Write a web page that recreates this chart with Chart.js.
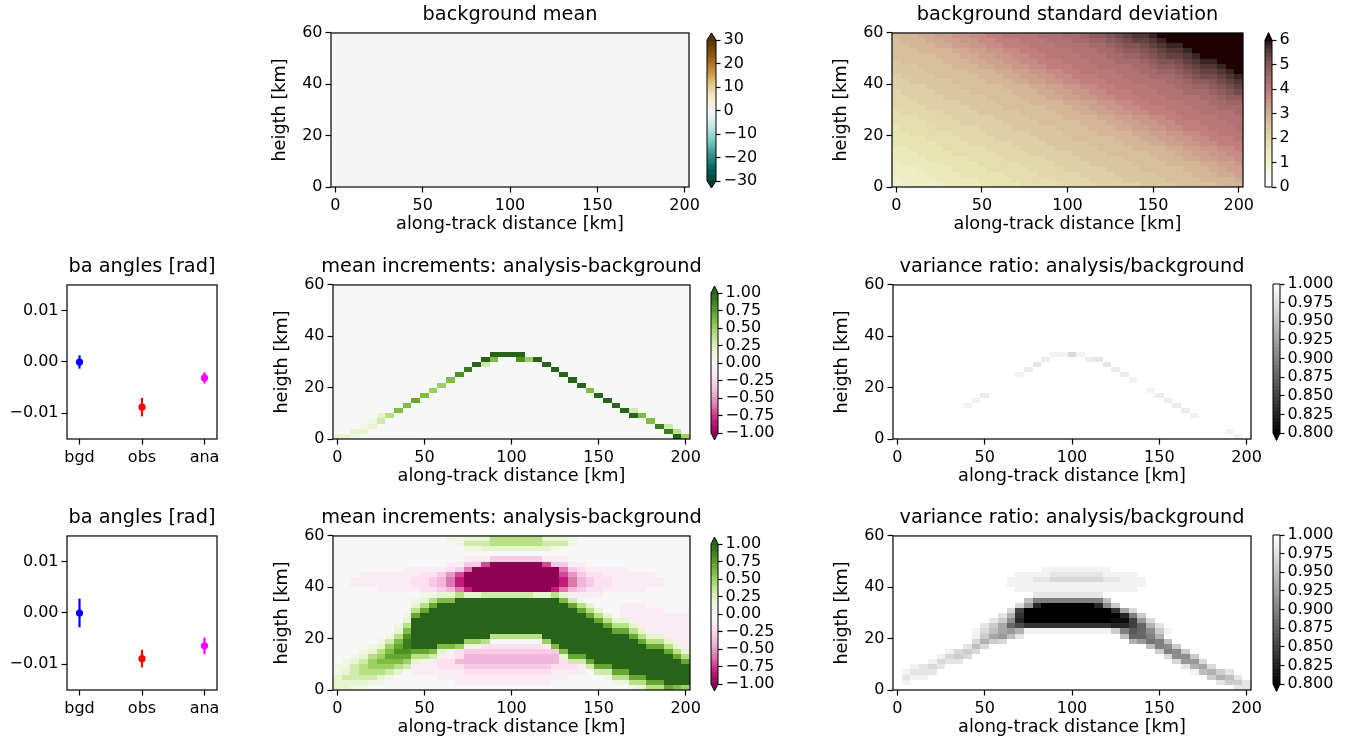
<!DOCTYPE html>
<html>
<head>
<meta charset="utf-8">
<script src="https://cdn.jsdelivr.net/npm/chart.js@4.4.1/dist/chart.umd.min.js"></script>
<style>
  html, body { margin: 0; padding: 0; background: #fff; }
  #fig { position: relative; width: 1352px; height: 745px; overflow: hidden; background: #fff; }
  #fig canvas { position: absolute; }
</style>
</head>
<body>
<div id="fig"></div>
<script>
// grid of the along-track / height fields (cell centres, km)
const xCentres = [0, 5, 10, 15, 20, 25, 30, 35, 40, 45, 50, 55, 60, 65, 70, 75, 80, 85, 90, 95, 100,
  105, 110, 115, 120, 125, 130, 135, 140, 145, 150, 155, 160, 165, 170, 175, 180, 185, 190, 195, 200];
const yCentres = [1, 3, 5, 7, 9, 11, 13, 15, 17, 19, 21, 23, 25, 27, 29, 31, 33, 35, 37, 39,
  41, 43, 45, 47, 49, 51, 53, 55, 57, 59];
const cellW = 5, cellH = 2;

const distTicks = [0, 50, 100, 150, 200];
const heightTicks = [0, 20, 40, 60];

// background mean: flat field
const bgMeanValue = 0;
const bgMeanTicks = [-30, -20, -10, 0, 10, 20, 30];

// background std, rows top -> bottom, one char per column, value = index * 0.2
const stdCodes = '0123456789abcdefghijklmnopqrstuv';
const bgStdRows = [
  'eeeffgghhiijjkkkklllmmnoopqrsstuvvvvvvvvv',
  'deeeffgghhiijjjkkklllmmnnopqrrstuvvvvvvvv',
  'ddeeeffgghhiijjjkkkllllmmnoppqrsttuvvvvvv',
  'dddeeeeffgghhiijjkkkklllmmnoopqrsstuvvvvv',
  'dddddeeeffgghhiijjkkkklllmmnnopqrrstuvvvv',
  'cdddddeeeffgghhiijjjkkklllmmmnoppqrsttuvv',
  'cccddddeeeffgghhiijjjkkkllllmmnoopqrsstuv',
  'ccccdddddeeeffgghhiijjkkkklllmmnnopqrrstu',
  'bccccdddddeeeffgghhiijjjkkklllmmmnopqqrst',
  'bbcccccddddeeeffgghhiijjjkkkllllmmnoopqrs',
  'bbbbccccdddddeeeffgghhiijjkkkklllmmnnopqr',
  'abbbbccccdddddeeeffgghhiijjjkkklllmmmnopq',
  'aabbbbcccccddddeeeffgghhiijjjkkkllllmmnoo',
  'aaabbbbbccccddddeeeeffgghhiijjkkkklllmmnn',
  'aaaabbbbbccccdddddeeeffgghhiijjjkkklllmmm',
  '9aaaaabbbbcccccddddeeeffgghhiijjjkkkllllm',
  '999aaaabbbbbccccddddeeeeffgghhiijjkkkklll',
  '9999aaaabbbbbccccdddddeeeffgghhiijjjkkkll',
  '89999aaaaabbbbcccccddddeeeffgghhiijjjkkkl',
  '8899999aaaabbbbbccccddddeeeeffgghhiijjkkk',
  '88889999aaaabbbbbccccdddddeeeffgghhiijjjk',
  '888889999aaaaabbbbcccccddddeeeffgghhiijjj',
  '77888899999aaaabbbbcccccddddeeeeffgghhiij',
  '777888899999aaaabbbbbccccdddddeeeffgghhii',
  '7777888889999aaaaabbbbcccccddddeeeffgghhi',
  '677777888899999aaaabbbbcccccddddeeeeffggh',
  '6667777888899999aaaabbbbbccccdddddeeeffgg',
  '66667777888889999aaaaabbbbcccccddddeeeffg',
  '5666677777888899999aaaabbbbcccccddddeeeef',
  '55666677777888899999aaaabbbbbccccdddddeee'
];
const bgStdTicks = [0, 1, 2, 3, 4, 5, 6];

// first experiment: [x km, y km, value] on a flat field
const incr1Base = 0;
const incr1Cells = [
  [0, 1, 0.2], [5, 1, 0.2], [10, 1, 0.1], [195, 1, 1.0], [200, 1, 0.5],
  [10, 3, 0.2], [15, 3, 0.2], [190, 3, 0.9], [195, 3, 0.4],
  [15, 5, 0.1], [20, 5, 0.2], [185, 5, 0.9], [190, 5, 0.3],
  [20, 7, 0.1], [25, 7, 0.3], [180, 7, 0.6],
  [25, 9, 0.2], [30, 9, 0.4], [170, 9, 1.0], [175, 9, 0.6],
  [35, 11, 0.6], [165, 11, 1.0], [170, 11, 0.3],
  [40, 13, 0.6], [160, 13, 1.0],
  [45, 15, 0.7], [155, 15, 1.0],
  [50, 17, 0.6], [150, 17, 1.0],
  [55, 19, 0.5], [145, 19, 0.6],
  [60, 21, 0.5], [140, 21, 1.0],
  [65, 23, 0.6], [135, 23, 1.0],
  [70, 25, 0.8], [130, 25, 1.0],
  [75, 27, 0.9], [125, 27, 1.0],
  [80, 29, 1.0], [85, 29, 0.3], [120, 29, 1.0],
  [85, 31, 1.0], [90, 31, 0.6], [105, 31, 0.8], [110, 31, 0.5], [115, 31, 1.0],
  [90, 33, 1.0], [95, 33, 1.0], [100, 33, 1.0], [105, 33, 1.0]
];
const incrTicks = [-1, -0.75, -0.5, -0.25, 0, 0.25, 0.5, 0.75, 1];

const var1Base = 1;
const var1Cells = [
  [40, 13, 0.99], [45, 15, 0.99], [50, 17, 0.985], [70, 25, 0.99], [75, 27, 0.985],
  [80, 29, 0.98], [85, 31, 0.985], [90, 33, 0.99], [95, 33, 0.99], [100, 33, 0.97],
  [105, 33, 0.99], [110, 31, 0.985], [115, 31, 0.98], [120, 29, 0.98], [125, 27, 0.985],
  [130, 25, 0.985], [135, 23, 0.99], [145, 19, 0.99], [150, 17, 0.985], [155, 15, 0.985],
  [160, 13, 0.985], [165, 11, 0.985], [170, 9, 0.99], [190, 3, 0.99], [195, 1, 0.99]
];
const varTicks = [0.8, 0.825, 0.85, 0.875, 0.9, 0.925, 0.95, 0.975, 1];

// second experiment, run-length rows top -> bottom
const incrCodes = 'jihgfedcba.ABCDEFGHIJ'; // value = (index - 10) / 10
const incr2Rows = [
  '13.2A3B6D3BA13.',
  '14.A3C6D3CA13.',
  '15.2A8BA15.',
  '41.',
  '15.3a6c3a14.',
  '13.2a2cg6jg2c2a12.',
  '8.5abcf10jfcb5a7.',
  '3.7a2bceg11jgec2b6a4.',
  '2.7a2bcdfh11jhfdc2b6a3.',
  '2.7a2bcdfh11jhfdc2b6a3.',
  '5.5a2bcdfh9jhfdc2b5a5.',
  '10.2A2BD2B6C2BDB4a10.',
  '9.ABD2F12JFCA12.',
  '9.BDG15JGDB3.3a5.',
  '9.DG17JGDB2.5a3.',
  '8.AG19JGDB.8a',
  '8.B21JGD2B7a',
  '7.AD22JG2DB6a',
  '7.BF23J2GDB5a',
  '6.ADH9J6D10JGD2B3a',
  '5.ACFI6J2ED6.E10JG2DB2a',
  '4.ABEGI3J2FE2A7baF10J2GDBa',
  '3.ABDF2H2GFBAb11cF11JGDB',
  '2.ABDE3G2DC2ab11dB2G10JGD',
  '.ABCE3FEBAa2b12db2CG10JG',
  '2ACD3EDC3a3b10c3baC2G9J',
  'ABC3DCB.6a10b4a.2C2G7J',
  'B4CBA5.15a4.A2D2G5J',
  '4B2A8.11a7.2A2D2G3J',
  '2B2A30.AB2DGFE'
];
const varCodes = 'abcdefghijklmnopqrstu'; // value = 1 - index / 100
const var2Rows = [
  '41a', '41a', '41a', '41a', '41a', '41a',
  '17a8b16a',
  '14a2b2b6c2b2b13a',
  '13ab2b2c6d2c2bb12a',
  '13a16b12a',
  '14a14b13a',
  '16a8c17a',
  '15af8kf16a',
  '14adir6urje15a',
  '13adp10uqhd13a',
  '12acgq11urke12a',
  '11acejr10u2tpid11a',
  '10acehmo10q2rpmgc10a',
  '9abdfhig10beknmjeb9a',
  '9abehifc11af2mkg10a',
  '9adged14agilkf9a',
  '8acfd18afkje8a',
  '6abded20aekje7a',
  '5abded22adjje6a',
  '4abdcc24adiid5a',
  '2abcdc27acghd4a',
  'ab3c29abfgec2a',
  'ac2b32aegfca',
  'ab35ac2ec',
  '39a2c'
];

// bending angles
const baLabels = ['bgd', 'obs', 'ana'];
const baTicks = [-0.01, 0, 0.01];
const baMean1 = [0.0, -0.0088, -0.0031];
const baErr1 = [0.0013, 0.0018, 0.0011];
const baMean2 = [0.0, -0.0089, -0.0064];
const baErr2 = [0.0028, 0.0017, 0.0016];
const baColors = ['#0000ff', '#ff0000', '#ff00ff'];

// ---- colour maps ----
const PIYG = [[142, 1, 82], [197, 27, 125], [222, 119, 174], [241, 182, 218], [253, 224, 239], [247, 247, 247],
  [230, 245, 208], [184, 225, 134], [127, 188, 65], [77, 146, 33], [39, 100, 25]];
const BRBG_R = [[0, 60, 48], [1, 102, 94], [53, 151, 143], [128, 205, 193], [199, 234, 229], [245, 245, 245],
  [246, 232, 195], [223, 194, 125], [191, 129, 45], [140, 81, 10], [84, 48, 5]];
const clamp = t => Math.max(0, Math.min(1, t));
function ramp(stops, t) {
  t = clamp(t);
  const s = t * (stops.length - 1);
  const i = Math.min(stops.length - 2, Math.floor(s)), f = s - i;
  const c = stops[i].map((v, k) => Math.round(v + (stops[i + 1][k] - v) * f));
  return `rgb(${c[0]},${c[1]},${c[2]})`;
}
function pinkR(t) {
  const x = 1 - clamp(t);
  const hr = Math.min(1, x / 0.365079), hg = clamp((x - 0.365079) / 0.380953), hb = clamp((x - 0.746032) / 0.253968);
  const r = Math.max(0.1178, Math.sqrt((2 * x + hr) / 3));
  const g = Math.sqrt((2 * x + hg) / 3), b = Math.sqrt((2 * x + hb) / 3);
  return `rgb(${Math.round(r * 255)},${Math.round(g * 255)},${Math.round(b * 255)})`;
}
const cmaps = {
  BrBG_r: t => ramp(BRBG_R, t),
  PiYG: t => ramp(PIYG, t),
  pink_r: pinkR,
  gray: t => { const g = Math.round(255 * clamp(t)); return `rgb(${g},${g},${g})`; }
};

// ---- cells ----
function decodeRun(s) {
  const out = [];
  s.replace(/(\d*)(\D)/g, (m, n, ch) => { for (let i = 0; i < (n ? +n : 1); i++) out.push(ch); return ''; });
  return out;
}
function gridCells(rows, codes, toValue, runLength) {
  const cells = [];
  rows.forEach((row, i) => {
    const chars = runLength ? decodeRun(row) : row.split('');
    const y = yCentres[yCentres.length - 1 - i];
    xCentres.forEach((x, j) => {
      cells.push({x, y, v: toValue(codes.indexOf(chars[Math.min(j, chars.length - 1)]))});
    });
  });
  return cells;
}
function sparseCells(base, list) {
  const set = new Map(list.map(([x, y, v]) => [x + ',' + y, v]));
  const cells = [];
  yCentres.forEach(y => xCentres.forEach(x => {
    const k = x + ',' + y;
    cells.push({x, y, v: set.has(k) ? set.get(k) : base});
  }));
  return cells;
}

// ---- plugins ----
const heatPlugin = {
  id: 'heat',
  beforeDatasetsDraw(chart, args, o) {
    const {ctx, chartArea: a, scales: {x, y}} = chart;
    const cmap = cmaps[o.cmap];
    ctx.save();
    ctx.beginPath();
    ctx.rect(a.left, a.top, a.right - a.left, a.bottom - a.top);
    ctx.clip();
    for (const c of chart.data.datasets[0].data) {
      const x0 = Math.round(x.getPixelForValue(c.x - cellW / 2)), x1 = Math.round(x.getPixelForValue(c.x + cellW / 2));
      const y0 = Math.round(y.getPixelForValue(c.y + cellH / 2)), y1 = Math.round(y.getPixelForValue(c.y - cellH / 2));
      ctx.fillStyle = cmap((c.v - o.vmin) / (o.vmax - o.vmin));
      ctx.fillRect(x0, y0, x1 - x0, y1 - y0);
    }
    ctx.restore();
  }
};
const framePlugin = {
  id: 'frame',
  afterDatasetsDraw(chart) {
    const {ctx, chartArea: a} = chart;
    ctx.save();
    ctx.strokeStyle = '#000';
    ctx.lineWidth = 1.2;
    ctx.strokeRect(a.left, a.top, a.right - a.left, a.bottom - a.top);
    ctx.restore();
  }
};
const cbarPlugin = {
  id: 'cbar',
  afterDraw(chart, args, o) {
    const {ctx, chartArea: a} = chart;
    const y = chart.scales.y, cmap = cmaps[o.cmap], n = 256;
    ctx.save();
    for (let i = 0; i < n; i++) {
      const p0 = y.getPixelForValue(o.vmin + (o.vmax - o.vmin) * i / n);
      const p1 = y.getPixelForValue(o.vmin + (o.vmax - o.vmin) * (i + 1) / n);
      ctx.fillStyle = cmap((i + 0.5) / n);
      ctx.fillRect(a.left, p1, a.right - a.left, p0 - p1 + 0.5);
    }
    const ext = 0.05 * (a.bottom - a.top), cx = (a.left + a.right) / 2;
    if (o.extendMax) {
      ctx.beginPath();
      ctx.moveTo(a.left, a.top + 0.5); ctx.lineTo(a.right, a.top + 0.5); ctx.lineTo(cx, a.top - ext);
      ctx.closePath(); ctx.fillStyle = cmap(1); ctx.fill();
    }
    if (o.extendMin) {
      ctx.beginPath();
      ctx.moveTo(a.left, a.bottom - 0.5); ctx.lineTo(a.right, a.bottom - 0.5); ctx.lineTo(cx, a.bottom + ext);
      ctx.closePath(); ctx.fillStyle = cmap(0); ctx.fill();
    }
    ctx.beginPath();
    ctx.moveTo(a.left, a.bottom);
    ctx.lineTo(a.left, a.top);
    if (o.extendMax) ctx.lineTo(cx, a.top - ext);
    ctx.lineTo(a.right, a.top);
    ctx.lineTo(a.right, a.bottom);
    if (o.extendMin) ctx.lineTo(cx, a.bottom + ext);
    ctx.closePath();
    ctx.strokeStyle = '#000';
    ctx.lineWidth = 1;
    ctx.stroke();
    ctx.restore();
  }
};

// ---- layout helpers ----
Chart.defaults.font.family = '"DejaVu Sans", sans-serif';
Chart.defaults.font.size = 16;
Chart.defaults.color = '#000';

const fig = document.getElementById('fig');
function addCanvas(left, top, width, height) {
  const cv = document.createElement('canvas');
  cv.width = width; cv.height = height;
  cv.style.left = left + 'px'; cv.style.top = top + 'px';
  cv.style.width = width + 'px'; cv.style.height = height + 'px';
  fig.appendChild(cv);
  return cv;
}
const minus = s => String(s).replace('-', '\u2212');
const fixTicks = list => scale => { scale.ticks = list.map(v => ({value: v})); };
const tickGrid = len => ({display: true, drawOnChartArea: false, drawTicks: true, tickLength: len, tickWidth: 1.2, tickColor: '#000'});

function axesPanel(box, cfg) {
  const P = cfg.pad, T = 40, B = 60;
  const cv = addCanvas(box.l - P, box.t - T, box.w + 2 * P, box.h + T + B);
  return new Chart(cv, {
    type: 'scatter',
    data: {datasets: cfg.datasets},
    options: {
      responsive: false, animation: false, events: [], devicePixelRatio: 1,
      layout: {padding: 0},
      plugins: {
        legend: {display: false},
        tooltip: {enabled: false},
        title: {display: true, text: cfg.title, color: '#000', font: {size: 19.3, weight: 'normal'}, padding: {top: 10.2, bottom: 6.6}},
        heat: cfg.heat || false
      },
      scales: {
        x: {
          type: 'linear', min: cfg.xMin, max: cfg.xMax,
          afterBuildTicks: fixTicks(cfg.xTicks),
          afterFit: s => { s.height = B; s.paddingLeft = 0; s.paddingRight = 0; },
          ticks: {autoSkip: false, maxRotation: 0, padding: 4, callback: cfg.xLabel},
          grid: tickGrid(5.5),
          border: {display: false},
          title: cfg.xTitle ? {display: true, text: cfg.xTitle, font: {size: 17.7}, padding: {top: 0, bottom: 11.5}} : {display: false}
        },
        y: {
          type: 'linear', min: cfg.yMin, max: cfg.yMax,
          afterBuildTicks: fixTicks(cfg.yTicks),
          afterFit: s => { s.width = P; s.paddingTop = 0; s.paddingBottom = 0; },
          ticks: {autoSkip: false, padding: 3, callback: cfg.yLabel},
          grid: tickGrid(5.5),
          border: {display: false},
          title: cfg.yTitle ? {display: true, text: cfg.yTitle, font: {size: 17.7}, padding: {top: 19, bottom: 0}} : {display: false}
        },
        // empty right-hand box so the chart area sits in the middle of the canvas
        yr: {
          axis: 'y', position: 'right', display: true,
          afterFit: s => { s.width = P; s.paddingTop = 0; s.paddingBottom = 0; },
          ticks: {display: false}, grid: {display: false}, border: {display: false}
        }
      }
    },
    plugins: [heatPlugin, framePlugin]
  });
}

function colorbar(box, cb) {
  const L = 4, R = 72, T = 14, B = 14;
  const cv = addCanvas(box.l - L, box.t - T, box.w + L + R, box.h + T + B);
  const vmin = cb.ticks[0], vmax = cb.ticks[cb.ticks.length - 1];
  return new Chart(cv, {
    type: 'scatter',
    data: {datasets: [{data: []}]},
    options: {
      responsive: false, animation: false, events: [], devicePixelRatio: 1,
      layout: {padding: {left: L, right: 0, top: T, bottom: B}},
      plugins: {
        legend: {display: false},
        tooltip: {enabled: false},
        cbar: {cmap: cb.cmap, vmin, vmax, extendMin: !!cb.extendMin, extendMax: !!cb.extendMax}
      },
      scales: {
        x: {display: false, min: 0, max: 1},
        y: {
          position: 'right', min: vmin, max: vmax,
          afterBuildTicks: fixTicks(cb.ticks),
          afterFit: s => { s.width = R; s.paddingTop = 0; s.paddingBottom = 0; },
          ticks: {autoSkip: false, padding: 3, callback: cb.label},
          grid: tickGrid(4.5),
          border: {display: false}
        }
      }
    },
    plugins: [cbarPlugin]
  });
}

const heatAxes = {
  pad: 80, xMin: -2.5, xMax: 202.5, xTicks: distTicks, yMin: 0, yMax: 60, yTicks: heightTicks,
  xTitle: 'along-track distance [km]', yTitle: 'heigth [km]',
  xLabel: v => String(v), yLabel: v => String(v)
};
function heatPanel(box, title, cmap, vmin, vmax, cells) {
  axesPanel(box, Object.assign({}, heatAxes, {
    title, heat: {cmap, vmin, vmax},
    datasets: [{data: cells, pointRadius: 0, pointHoverRadius: 0}]
  }));
}
function baPanel(top, means, errs) {
  const datasets = [];
  means.forEach((m, k) => {
    datasets.push({data: [{x: k, y: m - errs[k]}, {x: k, y: m + errs[k]}], showLine: true,
      borderColor: baColors[k], borderWidth: 2.2, pointRadius: 0});
    datasets.push({data: [{x: k, y: m}], pointRadius: 3.6, pointBackgroundColor: baColors[k],
      pointBorderColor: baColors[k], pointBorderWidth: 0});
  });
  axesPanel({l: 67, t: top, w: 150, h: 154}, {
    pad: 66, title: 'ba angles [rad]', datasets,
    xMin: -0.2, xMax: 2.2, xTicks: [0, 1, 2], xLabel: v => baLabels[v],
    yMin: -0.015, yMax: 0.015, yTicks: baTicks, yLabel: v => minus(v.toFixed(2))
  });
}

// ---- row 1 ----
heatPanel({l: 331, t: 33, w: 358, h: 154}, 'background mean', 'BrBG_r', -30, 30, sparseCells(bgMeanValue, []));
colorbar({l: 707, t: 40, w: 9, h: 141}, {cmap: 'BrBG_r', ticks: bgMeanTicks, extendMin: true, extendMax: true, label: v => minus(v)});
heatPanel({l: 892, t: 33, w: 351, h: 154}, 'background standard deviation', 'pink_r', 0, 6,
  gridCells(bgStdRows, stdCodes, i => i * 0.2, false));
colorbar({l: 1265, t: 40, w: 7, h: 147}, {cmap: 'pink_r', ticks: bgStdTicks, extendMax: true, label: v => String(v)});

// ---- row 2 ----
baPanel(285, baMean1, baErr1);
heatPanel({l: 333, t: 285, w: 357, h: 154}, 'mean increments: analysis-background', 'PiYG', -1, 1, sparseCells(incr1Base, incr1Cells));
colorbar({l: 711, t: 293, w: 7, h: 140}, {cmap: 'PiYG', ticks: incrTicks, extendMin: true, extendMax: true, label: v => minus(v.toFixed(2))});
heatPanel({l: 893, t: 285, w: 358, h: 154}, 'variance ratio: analysis/background', 'gray', 0.8, 1, sparseCells(var1Base, var1Cells));
colorbar({l: 1273, t: 284, w: 7, h: 149}, {cmap: 'gray', ticks: varTicks, extendMin: true, label: v => v.toFixed(3)});

// ---- row 3 ----
baPanel(536, baMean2, baErr2);
heatPanel({l: 333, t: 536, w: 357, h: 154}, 'mean increments: analysis-background', 'PiYG', -1, 1,
  gridCells(incr2Rows, incrCodes, i => (i - 10) / 10, true));
colorbar({l: 711, t: 544, w: 7, h: 140}, {cmap: 'PiYG', ticks: incrTicks, extendMin: true, extendMax: true, label: v => minus(v.toFixed(2))});
heatPanel({l: 893, t: 536, w: 358, h: 154}, 'variance ratio: analysis/background', 'gray', 0.8, 1,
  gridCells(var2Rows, varCodes, i => 1 - i / 100, true));
colorbar({l: 1273, t: 535, w: 7, h: 149}, {cmap: 'gray', ticks: varTicks, extendMin: true, label: v => v.toFixed(3)});
</script>
</body>
</html>
